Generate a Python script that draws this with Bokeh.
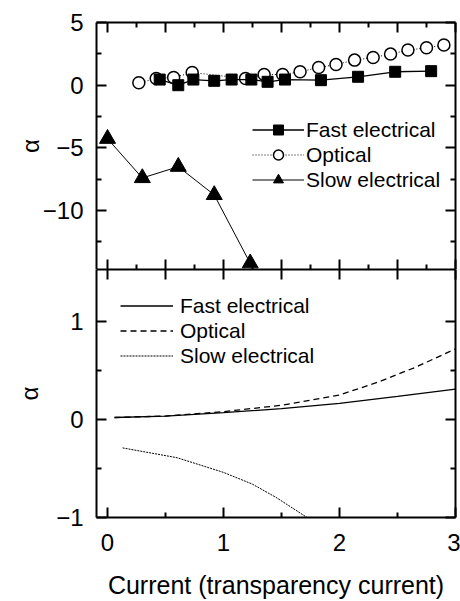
from bokeh.plotting import figure
from bokeh.models import LinearAxis, FixedTicker, Range1d, Legend, LegendItem
from bokeh.layouts import column
from bokeh.embed import file_html
from bokeh.resources import INLINE

FONT = "Liberation Sans"

# ---- upper panel: measured alpha ----
fast_x = [0.45, 0.61, 0.74, 0.92, 1.07, 1.24, 1.38, 1.53, 1.84, 2.16, 2.48, 2.79]
fast_y = [0.45, 0.0, 0.45, 0.35, 0.45, 0.45, 0.27, 0.45, 0.40, 0.67, 1.07, 1.12]

opt_x = [0.27, 0.42, 0.57, 0.73, 1.19, 1.35, 1.51, 1.66, 1.82, 1.97, 2.13, 2.29, 2.44, 2.59, 2.75, 2.90]
opt_y = [0.19, 0.53, 0.61, 1.01, 0.53, 0.85, 0.85, 1.07, 1.41, 1.65, 2.00, 2.21, 2.48, 2.80, 2.98, 3.20]

slow_x = [0.0, 0.30, 0.61, 0.92, 1.23]
slow_y = [-4.27, -7.40, -6.50, -8.75, -14.2]

# ---- lower panel: model alpha ----
mfast_x = [0.06, 0.5, 1.0, 1.5, 2.0, 2.5, 3.0]
mfast_y = [0.02, 0.035, 0.07, 0.11, 0.165, 0.235, 0.31]

mopt_x = [0.06, 0.5, 1.0, 1.5, 2.0, 2.33, 2.65, 3.0]
mopt_y = [0.02, 0.035, 0.08, 0.145, 0.25, 0.38, 0.53, 0.72]

mslow_x = [0.13, 0.6, 1.0, 1.25, 1.46, 1.72]
mslow_y = [-0.29, -0.39, -0.54, -0.66, -0.80, -1.0]

labels = ["Fast electrical", "Optical", "Slow electrical"]

x_major_fine = [0, 0.5, 1, 1.5, 2, 2.5, 3]
x_minor_fine = [0.25, 0.75, 1.25, 1.75, 2.25, 2.75]
x_major = [0, 1, 2, 3]
x_minor = [0.5, 1.5, 2.5]
y1_major = [-10, -5, 0, 5]
y1_minor = [-12.5, -7.5, -2.5, 2.5]
y2_major = [-1, 0, 1]
y2_minor = [-0.5, 0.5]

XR = (-0.095, 3.0)


def style_axis(ax, major, minor, show_labels):
    ax.ticker = FixedTicker(ticks=major, minor_ticks=minor)
    ax.major_tick_in = 10
    ax.major_tick_out = 0
    ax.minor_tick_in = 5
    ax.minor_tick_out = 0
    ax.axis_line_width = 2
    ax.major_tick_line_width = 2
    ax.minor_tick_line_width = 2
    ax.axis_line_color = "black"
    ax.major_tick_line_color = "black"
    ax.minor_tick_line_color = "black"
    ax.axis_label_text_font_style = "normal"
    ax.axis_label_text_font = FONT
    ax.axis_label_text_color = "black"
    ax.major_label_text_font = FONT
    if show_labels:
        ax.major_label_text_color = "black"
        ax.major_label_text_font_size = "24px"
        ax.major_label_standoff = 13
    else:
        ax.major_label_text_color = None
        ax.major_label_text_font_size = "1px"
        ax.major_label_standoff = 0


# upper
p1 = figure(width=460, height=269, x_range=Range1d(*XR), y_range=Range1d(-14.7, 5),
            output_backend="svg", toolbar_location=None,
            min_border_left=96, min_border_right=5, min_border_top=22, min_border_bottom=0)
p1.grid.visible = False
p1.outline_line_color = None
style_axis(p1.xaxis[0], x_major_fine, x_minor_fine, False)
style_axis(p1.yaxis[0], y1_major, y1_minor, True)
p1.yaxis[0].axis_label = "α"
p1.yaxis[0].axis_label_text_font_size = "24px"
p1.yaxis[0].axis_label_standoff = -4
top1 = LinearAxis()
style_axis(top1, x_major_fine, x_minor_fine, False)
p1.add_layout(top1, "above")
right1 = LinearAxis()
style_axis(right1, y1_major, y1_minor, False)
p1.add_layout(right1, "right")

ro_l = p1.line(opt_x, opt_y, line_color="black", line_width=1, line_dash="1 2")
ro_p = p1.scatter(opt_x, opt_y, marker="circle", size=12, fill_color="white",
                  line_color="black", line_width=1.5)
rf_l = p1.line(fast_x, fast_y, line_color="black", line_width=1.3)
rf_p = p1.scatter(fast_x, fast_y, marker="square", size=11, fill_color="black", line_color="black")
rs_l = p1.line(slow_x, slow_y, line_color="black", line_width=1)
rs_p = p1.scatter(slow_x, slow_y, marker="triangle", size=16, fill_color="black", line_color="black")

leg1 = Legend(items=[LegendItem(label=labels[0], renderers=[rf_l, rf_p]),
                     LegendItem(label=labels[1], renderers=[ro_l, ro_p]),
                     LegendItem(label=labels[2], renderers=[rs_l, rs_p])],
              location=(156, 77))

# lower
p2 = figure(width=460, height=332, x_range=Range1d(*XR), y_range=Range1d(-1, 1.53),
            output_backend="svg", toolbar_location=None,
            min_border_left=96, min_border_right=5, min_border_top=0, min_border_bottom=0)
p2.grid.visible = False
p2.outline_line_color = None
style_axis(p2.xaxis[0], x_major, x_minor, True)
p2.xaxis[0].major_label_standoff = 16
p2.xaxis[0].axis_label = "Current (transparency current)"
p2.xaxis[0].axis_label_text_font_size = "25px"
p2.xaxis[0].axis_label_standoff = 17
style_axis(p2.yaxis[0], y2_major, y2_minor, True)
p2.yaxis[0].axis_label = "α"
p2.yaxis[0].axis_label_text_font_size = "24px"
p2.yaxis[0].axis_label_standoff = 10
top2 = LinearAxis()
style_axis(top2, x_major_fine, [], False)
p2.add_layout(top2, "above")
right2 = LinearAxis()
style_axis(right2, y2_major, y2_minor, False)
p2.add_layout(right2, "right")

m1 = p2.line(mfast_x, mfast_y, line_color="black", line_width=1.3)
m2 = p2.line(mopt_x, mopt_y, line_color="black", line_width=1.3, line_dash="6 4")
m3 = p2.line(mslow_x, mslow_y, line_color="black", line_width=1, line_dash="2 1")

leg2 = Legend(items=[LegendItem(label=labels[0], renderers=[m1]),
                     LegendItem(label=labels[1], renderers=[m2]),
                     LegendItem(label=labels[2], renderers=[m3])],
              location=(24, 149))

for lg, gw, so in [(leg1, 52, 2), (leg2, 53, 7)]:
    lg.border_line_color = None
    lg.background_fill_alpha = 0
    lg.padding = 0
    lg.margin = 0
    lg.spacing = 0
    lg.glyph_width = gw
    lg.glyph_height = 25
    lg.label_height = 25
    lg.label_standoff = so
    lg.label_text_font = FONT
    lg.label_text_font_size = "21px"
    lg.label_text_color = "black"

p1.add_layout(leg1)
p2.add_layout(leg2)

layout = column(p1, p2, spacing=0)
open("out.html", "w").write(file_html(layout, INLINE))
